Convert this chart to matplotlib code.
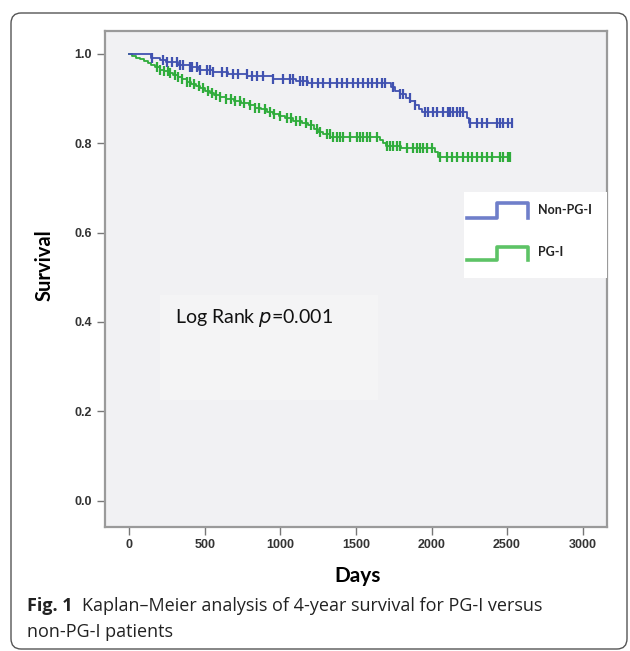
import numpy as np
import matplotlib
matplotlib.use("Agg")
import matplotlib.pyplot as plt
from matplotlib.patches import Rectangle, FancyBboxPatch

# ---------------- data ----------------
groups = ["Non-PG-I", "PG-I"]

nonpg_event_days = [140, 200, 240, 320, 400, 460, 550, 650, 780, 950, 1100, 1180,
                    1730, 1760, 1790, 1830, 1860, 1890, 1920, 1940, 2235, 2245]
nonpg_surv = [0.992, 0.986, 0.981, 0.976, 0.970, 0.965, 0.960, 0.955, 0.950, 0.945,
              0.940, 0.935, 0.927, 0.918, 0.910, 0.902, 0.894, 0.885, 0.876, 0.869,
              0.857, 0.845]
nonpg_end_day = 2530
nonpg_censor_days = [149, 222, 248, 281, 315, 334, 354, 401, 414, 447, 467, 513, 533, 553,
                     613, 646, 686, 719, 778, 811, 844, 884, 950, 1017, 1063, 1083, 1129,
                     1149, 1175, 1209, 1248, 1281, 1328, 1374, 1407, 1440, 1480, 1513,
                     1546, 1580, 1606, 1639, 1672, 1692, 1745, 1791, 1811, 1858, 1891,
                     1957, 1977, 2010, 2036, 2076, 2109, 2123, 2143, 2169, 2189, 2209,
                     2255, 2301, 2334, 2368, 2434, 2454, 2474, 2507, 2530]

pg_event_days = [20, 45, 70, 95, 120, 145, 170, 200, 230, 260, 290, 320, 350, 380, 410,
                 440, 470, 500, 530, 560, 600, 640, 690, 740, 790, 830, 870, 910, 950,
                 990, 1030, 1080, 1140, 1180, 1220, 1250, 1280, 1330, 1660, 1680, 1700,
                 1800, 2020, 2040]
pg_surv = [0.996, 0.992, 0.988, 0.984, 0.980, 0.975, 0.970, 0.965, 0.961, 0.957, 0.952,
           0.948, 0.943, 0.938, 0.933, 0.928, 0.923, 0.918, 0.913, 0.909, 0.904, 0.899,
           0.895, 0.890, 0.885, 0.880, 0.876, 0.871, 0.866, 0.861, 0.856, 0.851, 0.846,
           0.840, 0.833, 0.826, 0.820, 0.815, 0.808, 0.800, 0.793, 0.789, 0.780, 0.770]
pg_end_day = 2520
pg_censor_days = [180, 205, 230, 255, 270, 300, 320, 350, 380, 400, 430, 460, 490, 520,
                  545, 570, 600, 640, 670, 700, 730, 760, 800, 830, 860, 900, 930, 960,
                  1000, 1040, 1070, 1100, 1130, 1170, 1200, 1240, 1262, 1308, 1328, 1348,
                  1374, 1394, 1414, 1460, 1507, 1526, 1546, 1573, 1593, 1639, 1705, 1725,
                  1745, 1772, 1791, 1838, 1878, 1904, 1924, 1944, 1970, 2003, 2056, 2102,
                  2136, 2169, 2209, 2242, 2268, 2301, 2334, 2368, 2401, 2454, 2474, 2507,
                  2520]

x_ticks = [0, 500, 1000, 1500, 2000, 2500, 3000]
y_ticks = [0.0, 0.2, 0.4, 0.6, 0.8, 1.0]

# ---------------- styling ----------------
BLUE = "#4152b0"
GREEN = "#2fac3b"
BLUE_LEG = "#6f7fca"
GREEN_LEG = "#5dc366"
PLOT_BG = "#f1f1f3"

W, H = 630, 651
fig = plt.figure(figsize=(W / 100, H / 100), dpi=100)

def fx(px):
    return px / W

def fy(py):
    return 1 - py / H

# outer rounded frame
frame = FancyBboxPatch((fx(11), fy(649)), fx(616), (649 - 13) / H,
                       boxstyle="round,pad=0,rounding_size=0.016",
                       transform=fig.transFigure, facecolor="white",
                       edgecolor="#555555", linewidth=1.0, zorder=-10)
fig.patches.append(frame)

ax_l, ax_r, ax_t, ax_b = 105, 607, 31, 527
ax = fig.add_axes([fx(ax_l), fy(ax_b), fx(ax_r - ax_l), (ax_b - ax_t) / H])
ax.set_zorder(5)
ax.set_facecolor(PLOT_BG)
ax.set_xlim(-162, 3162)
ax.set_ylim(-0.059, (ax_b - ax_t) / 446.7 - 0.059)

def axy(py):
    return (ax_b - py) / (ax_b - ax_t)

def axx(px):
    return (px - ax_l) / (ax_r - ax_l)

# faint box behind the log rank text
ax.add_patch(Rectangle((axx(160), axy(400)), axx(378) - axx(160), axy(295) - axy(400),
                       transform=ax.transAxes, facecolor="#f4f4f5", edgecolor="none",
                       zorder=1))

def km_arrays(event_days, surv, end_day):
    t = np.array([0] + list(event_days) + [end_day], dtype=float)
    s = np.array([1.0] + list(surv) + [surv[-1]], dtype=float)
    return t, s

def censor_vals(t, s, cdays):
    idx = np.searchsorted(t, np.array(cdays, dtype=float), side="right") - 1
    return s[idx]

for ev, sv, end, cens, col in [
    (pg_event_days, pg_surv, pg_end_day, pg_censor_days, GREEN),
    (nonpg_event_days, nonpg_surv, nonpg_end_day, nonpg_censor_days, BLUE),
]:
    t, s = km_arrays(ev, sv, end)
    ax.step(t, s, where="post", color=col, linewidth=1.3, zorder=3)
    ax.plot(cens, censor_vals(t, s, cens), linestyle="none", marker="|",
            markersize=7, markeredgewidth=1.6, color=col, zorder=4)

# spines and ticks
for sp in ax.spines.values():
    sp.set_color("#9a9a9a")
    sp.set_linewidth(1.6)

ax.set_xticks(x_ticks)
ax.set_yticks(y_ticks)
ax.set_xticklabels([str(v) for v in x_ticks])
ax.set_yticklabels([f"{v:.1f}" for v in y_ticks])
ax.tick_params(axis="both", direction="out", colors="#777777", length=6, width=1.0,
               labelcolor="#333333", labelsize=9)
ax.tick_params(axis="x", pad=3)
for lab in ax.get_xticklabels() + ax.get_yticklabels():
    lab.set_family(["Liberation Sans Narrow", "Liberation Sans", "DejaVu Sans"])
    lab.set_fontweight("bold")

ax.set_ylabel("Survival", fontsize=14.5, fontweight="bold", family="Lato")
ax.yaxis.set_label_coords(axx(45), axy(265))
ax.set_xlabel("Days", fontsize=15, fontweight="bold", family="Lato")
ax.xaxis.set_label_coords(axx(358), axy(576))
ax.xaxis.label.set_va("center")
ax.yaxis.label.set_va("center")

# log rank text
ax.text(axx(175), axy(318), "Log Rank $\\it{p}$=0.001", transform=ax.transAxes,
        fontsize=14, family="Lato", va="center", ha="left", color="#111111", zorder=5)

# legend (drawn manually with step-shaped glyphs)
ax.add_patch(Rectangle((axx(464), axy(278)), axx(607) - axx(464), axy(192) - axy(278),
                       transform=ax.transAxes, facecolor="white", edgecolor="none",
                       zorder=5))
for (name, col, plo, phi) in [(groups[0], BLUE_LEG, 218, 203),
                              (groups[1], GREEN_LEG, 260, 247)]:
    ylo, yhi = axy(plo), axy(phi)
    ax.plot([axx(467), axx(497), axx(497), axx(528), axx(528)],
            [ylo, ylo, yhi, yhi, ylo], transform=ax.transAxes, color=col,
            linewidth=2.6, solid_joinstyle="round", zorder=6, clip_on=False)
    ax.text(axx(538), axy((plo + phi) / 2 - 1), name, transform=ax.transAxes,
            fontsize=9, fontweight="bold", family="Lato", va="center", ha="left",
            color="#222222", zorder=6)

# caption
cap_font = "Open Sans"
t1 = fig.text(fx(27), fy(606), "Fig. 1", fontsize=13, fontweight="bold",
              family=cap_font, va="center", ha="left", color="#222222")
fig.canvas.draw()
bb = t1.get_window_extent()
fig.text(bb.x1 / W + fx(9), fy(606),
         "Kaplan\u2013Meier analysis of 4-year survival for PG-I versus",
         fontsize=13, family=cap_font, va="center", ha="left", color="#222222")
fig.text(fx(27), fy(632), "non-PG-I patients", fontsize=13, family=cap_font,
         va="center", ha="left", color="#222222")

fig.savefig("out.png", dpi=100)
